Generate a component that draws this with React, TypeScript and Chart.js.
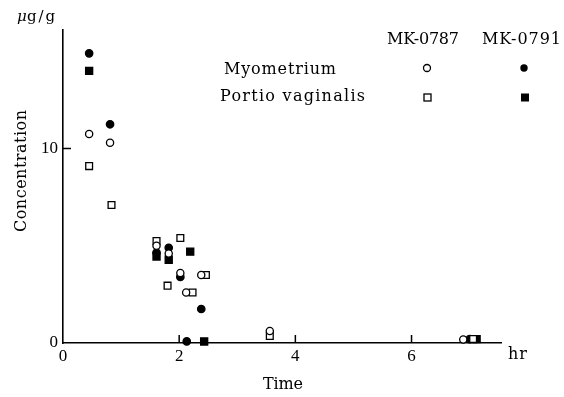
import React, { useEffect, useRef } from 'react';
import { Chart, registerables } from 'chart.js';
Chart.register(...registerables);

// Tick values
const xTicks = [0, 2, 4, 6];
const yTicks = [0, 10];

// MK-0787 Myometrium (open circle)
const mk0787MyoTime = [0.45, 0.81, 1.61, 1.82, 2.02, 2.12, 2.38, 3.56, 6.89];
const mk0787MyoConc = [10.75, 10.3, 5.0, 4.6, 3.6, 2.6, 3.5, 0.62, 0.18];

// MK-0787 Portio vaginalis (open square)
const mk0787PortTime = [0.45, 0.835, 1.61, 2.02, 1.8, 2.23, 2.46, 3.56, 7.06];
const mk0787PortConc = [9.1, 7.1, 5.25, 5.4, 2.95, 2.6, 3.5, 0.36, 0.2];

// MK-0791 Myometrium (filled circle)
const mk0791MyoTime = [0.45, 0.81, 1.61, 1.82, 2.02, 2.38, 2.13, 7.0];
const mk0791MyoConc = [14.9, 11.25, 4.65, 4.9, 3.4, 1.75, 0.08, 0.2];

// MK-0791 Portio vaginalis (filled square)
const mk0791PortTime = [0.45, 1.61, 1.82, 2.19, 2.43, 7.12];
const mk0791PortConc = [14.0, 4.45, 4.28, 4.7, 0.08, 0.2];

const toPts = (xs: number[], ys: number[]) => xs.map((x, i) => ({ x, y: ys[i] }));

const FONT = '"Liberation Serif", "DejaVu Serif", serif';
const TFONT = '"DejaVu Serif", "Liberation Serif", serif';

function fitText(ctx: CanvasRenderingContext2D, text: string, x: number, y: number, w: number, size: number, style = '') {
  ctx.font = `${style}${size}px ${TFONT}`;
  (ctx as any).letterSpacing = '0px';
  const m = ctx.measureText(text).width;
  const n = text.length;
  const sp = n > 1 ? (w - m) / (n - 1) : 0;
  (ctx as any).letterSpacing = `${sp}px`;
  ctx.textBaseline = 'middle';
  ctx.textAlign = 'left';
  ctx.fillText(text, x, y);
  (ctx as any).letterSpacing = '0px';
}

const decorPlugin = {
  id: 'decor',
  afterDraw(chart: any) {
    const ctx: CanvasRenderingContext2D = chart.ctx;
    const xs = chart.scales.x;
    const ys = chart.scales.y;
    ctx.save();
    ctx.fillStyle = '#000';
    ctx.strokeStyle = '#000';
    // inner tick marks
    ctx.lineWidth = 1.5;
    ctx.beginPath();
    xTicks.slice(1).forEach((v) => {
      const px = xs.getPixelForValue(v);
      ctx.moveTo(px, ys.bottom);
      ctx.lineTo(px, ys.bottom - 8);
    });
    yTicks.slice(1).forEach((v) => {
      const py = ys.getPixelForValue(v);
      ctx.moveTo(xs.left, py);
      ctx.lineTo(xs.left + 8, py);
    });
    ctx.stroke();

    // texts
    fitText(ctx, 'μ', 17, 17, 9, 15, 'italic ');
    fitText(ctx, 'g/g', 27, 17, 28, 15);
    fitText(ctx, 'MK-0787', 387, 40, 72, 16);
    fitText(ctx, 'MK-0791', 482, 40, 79, 16);
    fitText(ctx, 'Myometrium', 224, 70, 112, 16);
    fitText(ctx, 'Portio vaginalis', 220, 97, 145, 16);
    fitText(ctx, 'Time', 263, 385, 40, 16);
    fitText(ctx, 'hr', 508, 355, 19, 16);
    ctx.save();
    ctx.translate(22, 171);
    ctx.rotate(-Math.PI / 2);
    fitText(ctx, 'Concentration', -61, 0, 122, 16);
    ctx.restore();

    // legend symbols
    ctx.lineWidth = 1.3;
    ctx.beginPath();
    ctx.arc(427, 68, 3.5, 0, Math.PI * 2);
    ctx.fillStyle = '#fff';
    ctx.fill();
    ctx.stroke();
    ctx.beginPath();
    ctx.arc(524, 68, 3.7, 0, Math.PI * 2);
    ctx.fillStyle = '#000';
    ctx.fill();
    ctx.fillStyle = '#fff';
    ctx.fillRect(424, 94, 7, 7);
    ctx.strokeRect(424, 94, 7, 7);
    ctx.fillStyle = '#000';
    ctx.fillRect(521, 93.5, 8, 8);
    ctx.restore();
  },
};

export default function App() {
  const ref = useRef<HTMLCanvasElement>(null);
  useEffect(() => {
    if (!ref.current) return;
    const common = { showLine: false, borderColor: '#000', borderWidth: 1.3, clip: false as any };
    const chart = new Chart(ref.current, {
      type: 'scatter',
      data: {
        datasets: [
          { ...common, label: 'MK-0787 Myometrium', data: toPts(mk0787MyoTime, mk0787MyoConc), pointStyle: 'circle', pointRadius: 3.6, backgroundColor: '#fff' },
          { ...common, label: 'MK-0787 Portio vaginalis', data: toPts(mk0787PortTime, mk0787PortConc), pointStyle: 'rect', pointRadius: 4.8, backgroundColor: '#fff' },
          { ...common, label: 'MK-0791 Myometrium', data: toPts(mk0791MyoTime, mk0791MyoConc), pointStyle: 'circle', pointRadius: 3.7, backgroundColor: '#000' },
          { ...common, label: 'MK-0791 Portio vaginalis', data: toPts(mk0791PortTime, mk0791PortConc), pointStyle: 'rect', pointRadius: 5, backgroundColor: '#000' },
        ] as any,
      },
      options: {
        animation: false,
        responsive: false,
        layout: { padding: { top: 30, right: 63, left: 0, bottom: 0 } },
        plugins: { legend: { display: false }, tooltip: { enabled: false } },
        scales: {
          x: {
            type: 'linear',
            min: 0,
            max: 7.54,
            afterBuildTicks: (s: any) => { s.ticks = xTicks.map((v) => ({ value: v })); },
            afterFit: (s: any) => { s.height = 54; },
            grid: { display: false, drawTicks: false },
            border: { display: true, color: '#000', width: 1.6 },
            ticks: { color: '#000', padding: 3, font: { family: FONT, size: 17 } },
          },
          y: {
            type: 'linear',
            min: 0,
            max: 16.1,
            afterBuildTicks: (s: any) => { s.ticks = yTicks.map((v) => ({ value: v })); },
            afterFit: (s: any) => { s.width = 63; },
            grid: { display: false, drawTicks: false },
            border: { display: true, color: '#000', width: 1.6 },
            ticks: { color: '#000', padding: 5, font: { family: FONT, size: 17 } },
          },
        },
      },
      plugins: [decorPlugin],
    });
    return () => chart.destroy();
  }, []);
  return (
    <div style={{ position: 'absolute', left: 0, top: 0, width: 564, height: 397, background: '#fff' }}>
      <canvas ref={ref} width={564} height={397} style={{ display: 'block' }} />
    </div>
  );
}
